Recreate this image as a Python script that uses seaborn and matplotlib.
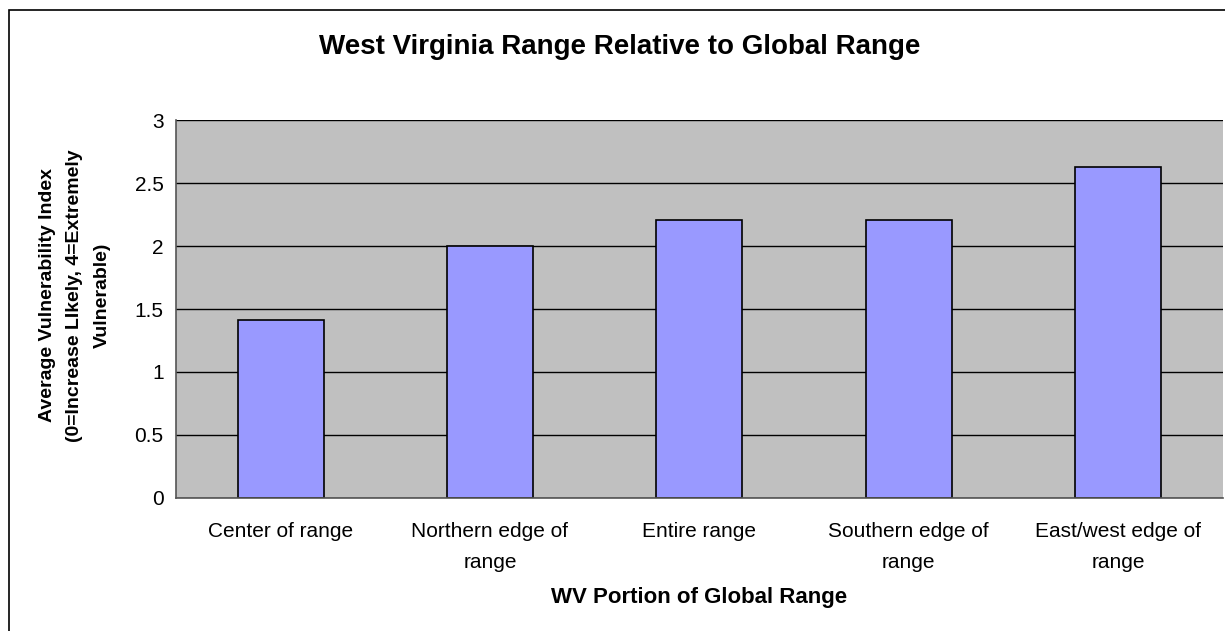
import numpy as np
import matplotlib
matplotlib.use("Agg")
import matplotlib.pyplot as plt
import seaborn as sns
import pandas as pd

# data
categories = ["Center of range", "Northern edge of\nrange", "Entire range",
              "Southern edge of\nrange", "East/west edge of\nrange"]
values = [1.41, 2.0, 2.21, 2.21, 2.63]
yticks = [0, 0.5, 1, 1.5, 2, 2.5, 3]
ytick_labels = ["0", "0.5", "1", "1.5", "2", "2.5", "3"]

sns.set_style("white")
plt.rcParams['font.family'] = ['Liberation Sans', 'DejaVu Sans']
plt.rcParams['text.color'] = "black"
plt.rcParams['xtick.labelcolor'] = "black"
plt.rcParams['ytick.labelcolor'] = "black"

df = pd.DataFrame({"portion": categories, "index": values})

fig = plt.figure(figsize=(12.25, 6.31), dpi=100)
ax = fig.add_axes([0.1437, 0.2108, 0.8543, 0.599])

# outer chart border
fig.patches.append(plt.Rectangle((0.0073, -0.05), 1.1, 1.034, transform=fig.transFigure,
                                 fill=False, edgecolor="black", linewidth=1.2))

ax.set_facecolor("#C0C0C0")
ax.set_axisbelow(True)
ax.yaxis.grid(True, color="black", linewidth=1)

sns.barplot(data=df, x="portion", y="index", color="#9999FF", width=0.41,
            edgecolor="black", linewidth=1.2, saturation=1, ax=ax)

ax.set_ylim(0, 3)
ax.set_xlim(-0.5, 4.5)
ax.set_yticks(yticks)
ax.set_yticklabels(ytick_labels)
ax.set_xticks(range(len(categories)))
ax.set_xticklabels(categories, fontsize=15, linespacing=1.8)
ax.set_xticks(np.arange(-0.5, 4.6, 1), minor=True)
ax.tick_params(axis="x", which="major", length=0, pad=17, labelcolor="black")
ax.tick_params(axis="x", which="minor", length=6, color="#555555", direction="out")
ax.tick_params(axis="y", length=6, color="#555555", direction="out", labelsize=15, pad=3,
               labelcolor="black")

for s in ["top", "right"]:
    ax.spines[s].set_visible(False)
ax.spines["left"].set_color("#555555")
ax.spines["bottom"].set_color("#555555")
ax.spines["left"].set_linewidth(1.2)
ax.spines["bottom"].set_linewidth(1.2)

ax.set_xlabel("")
ax.set_ylabel("")
fig.text(0.571, 0.0523, "WV Portion of Global Range", ha="center", va="center",
         fontsize=16, fontweight="bold", color="black")
fig.text(0.0612, 0.532, "Average Vulnerability Index\n(0=Increase LIkely, 4=Extremely\nVulnerable)",
         ha="center", va="center", rotation=90, fontsize=14, fontweight="bold",
         linespacing=1.8, multialignment="center", color="black")

fig.text(0.506, 0.925, "West Virginia Range Relative to Global Range",
         ha="center", va="center", fontsize=20, fontweight="bold", color="black")

fig.savefig("out.png", dpi=100)
